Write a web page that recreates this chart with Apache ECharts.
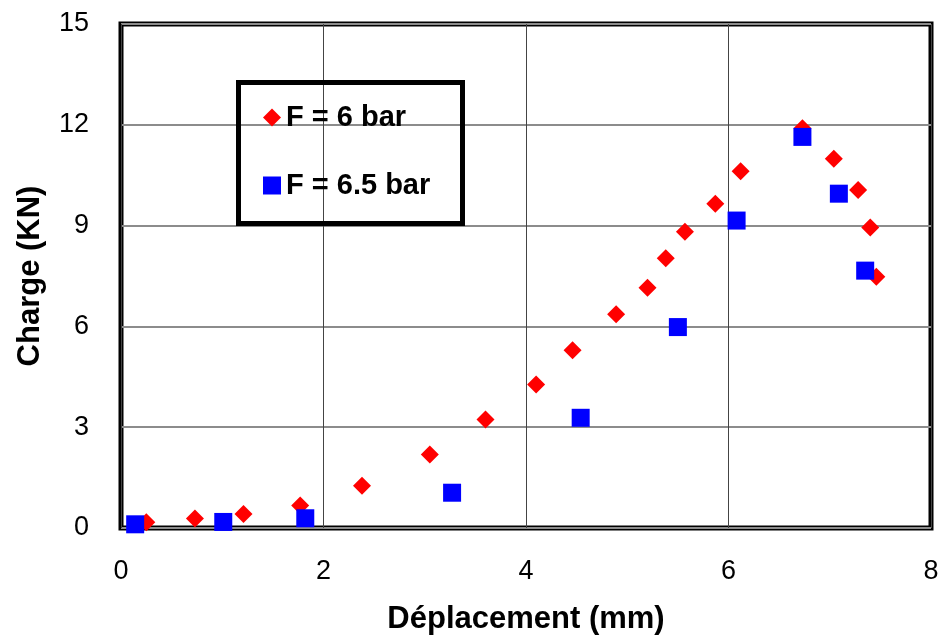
<!DOCTYPE html>
<html>
<head>
<meta charset="UTF-8">
<title>Charge - Déplacement</title>
<script src="https://cdn.jsdelivr.net/npm/echarts@6/dist/echarts.min.js"></script>
<style>
  html, body { margin: 0; background: #fff; }
  #chart { width: 943px; height: 640px; }
</style>
</head>
<body>
<div id="chart"></div>
<script>
// F = 6 bar (diamonds)
var dep6 = [0.25, 0.73, 1.21, 1.77, 2.38, 3.05, 3.60, 4.10, 4.46, 4.89, 5.20, 5.38, 5.57, 5.87, 6.12, 6.73, 7.04, 7.28, 7.40, 7.46];
var charge6 = [0.17, 0.28, 0.42, 0.67, 1.26, 2.19, 3.23, 4.27, 5.29, 6.36, 7.15, 8.03, 8.82, 9.65, 10.62, 11.9, 10.99, 10.06, 8.94, 7.48];
// F = 6.5 bar (squares)
var dep65 = [0.14, 1.01, 1.82, 3.27, 4.54, 5.50, 6.08, 6.73, 7.09, 7.35];
var charge65 = [0.11, 0.18, 0.29, 1.05, 3.28, 5.98, 9.15, 11.64, 9.95, 7.66];

var xTicks = [0, 2, 4, 6, 8];
var yTicks = [0, 3, 6, 9, 12, 15];

function pairs(xs, ys) {
  return xs.map(function (x, i) { return [x, ys[i]]; });
}

var chart = echarts.init(document.getElementById('chart'));
var tickFont = '"Liberation Sans", Arial, sans-serif';
var boldFont = '"Liberation Sans", Arial, sans-serif';

chart.setOption({
  animation: false,
  grid: {
    left: 121, right: 12, top: 24, bottom: 111,
    show: true, borderColor: '#000', borderWidth: 5, backgroundColor: '#fff'
  },
  xAxis: {
    type: 'value', min: xTicks[0], max: xTicks[xTicks.length - 1], interval: xTicks[1] - xTicks[0],
    name: 'Déplacement (mm)', nameLocation: 'middle', nameGap: 76,
    nameTextStyle: { fontFamily: boldFont, fontWeight: 'bold', fontSize: 31, color: '#000' },
    axisLine: { show: false }, axisTick: { show: false },
    axisLabel: { margin: 30, fontFamily: tickFont, fontSize: 27, color: '#000' },
    splitLine: { show: true, lineStyle: { color: '#444', width: 1 } }
  },
  yAxis: {
    type: 'value', min: yTicks[0], max: yTicks[yTicks.length - 1], interval: yTicks[1] - yTicks[0],
    name: 'Charge (KN)', nameLocation: 'middle', nameGap: 75, nameRotate: 90,
    nameTextStyle: { fontFamily: boldFont, fontWeight: 'bold', fontSize: 31, color: '#000' },
    axisLine: { show: false }, axisTick: { show: false },
    axisLabel: { margin: 32, fontFamily: tickFont, fontSize: 27, color: '#000' },
    splitLine: { show: true, lineStyle: { color: '#8c8c8c', width: 2 } }
  },
  legend: {
    orient: 'vertical', left: 263, top: 103, itemGap: 39,
    itemWidth: 18, itemHeight: 18, padding: 0,
    textStyle: { fontFamily: boldFont, fontWeight: 'bold', fontSize: 29, color: '#000' },
    data: ['F = 6 bar', 'F = 6.5 bar']
  },
  graphic: [{
    type: 'rect', left: 236, top: 80, z: 10,
    shape: { width: 224, height: 141 },
    style: { fill: 'none', stroke: '#000', lineWidth: 5 }
  }],
  series: [
    {
      name: 'F = 6 bar', type: 'scatter', symbol: 'diamond', symbolSize: 18,
      itemStyle: { color: '#ff0000', opacity: 1 },
      data: pairs(dep6, charge6)
    },
    {
      name: 'F = 6.5 bar', type: 'scatter', symbol: 'rect', symbolSize: 18,
      itemStyle: { color: '#0000ff', opacity: 1 },
      data: pairs(dep65, charge65)
    }
  ]
});
</script>
</body>
</html>
